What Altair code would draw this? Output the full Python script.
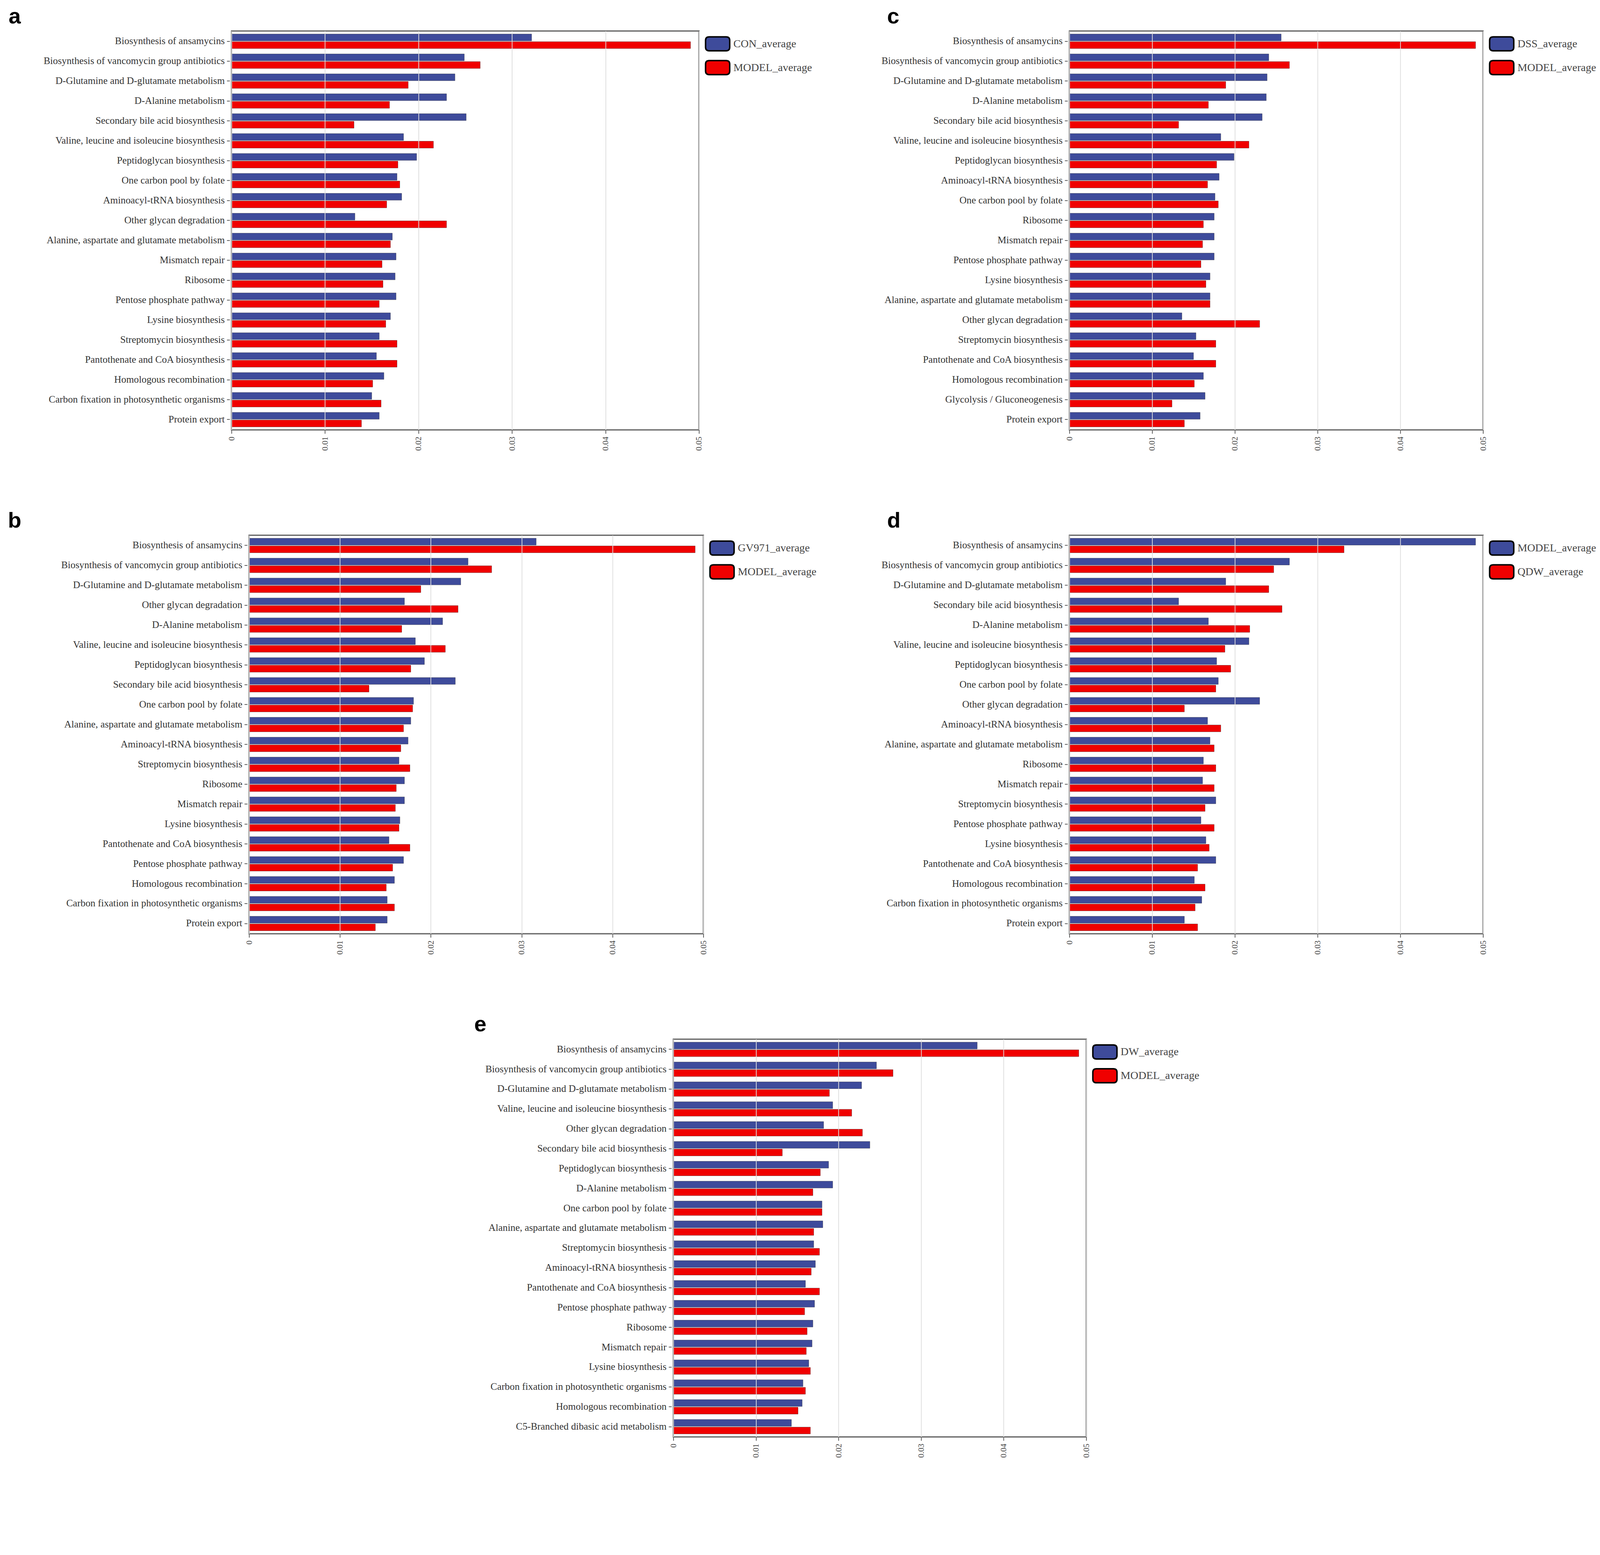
import altair as alt
import pandas as pd

BLUE = "#3E4B9B"
RED = "#F00000"

# ---------------- panel a ----------------
a_series = ["CON_average", "MODEL_average"]
a_cats = ["Biosynthesis of ansamycins", "Biosynthesis of vancomycin group antibiotics",
          "D-Glutamine and D-glutamate metabolism", "D-Alanine metabolism",
          "Secondary bile acid biosynthesis", "Valine, leucine and isoleucine biosynthesis",
          "Peptidoglycan biosynthesis", "One carbon pool by folate", "Aminoacyl-tRNA biosynthesis",
          "Other glycan degradation", "Alanine, aspartate and glutamate metabolism", "Mismatch repair",
          "Ribosome", "Pentose phosphate pathway", "Lysine biosynthesis", "Streptomycin biosynthesis",
          "Pantothenate and CoA biosynthesis", "Homologous recombination",
          "Carbon fixation in photosynthetic organisms", "Protein export"]
a_blue = [0.0321, 0.0249, 0.0239, 0.0230, 0.0251, 0.0184, 0.0198, 0.0177, 0.0182, 0.0132,
          0.0172, 0.0176, 0.0175, 0.0176, 0.0170, 0.0158, 0.0155, 0.0163, 0.0150, 0.0158]
a_red = [0.0491, 0.0266, 0.0189, 0.0169, 0.0131, 0.0216, 0.0178, 0.0180, 0.0166, 0.0230,
         0.0170, 0.0161, 0.0162, 0.0158, 0.0165, 0.0177, 0.0177, 0.0151, 0.0160, 0.0139]

# ---------------- panel c ----------------
c_series = ["DSS_average", "MODEL_average"]
c_cats = ["Biosynthesis of ansamycins", "Biosynthesis of vancomycin group antibiotics",
          "D-Glutamine and D-glutamate metabolism", "D-Alanine metabolism",
          "Secondary bile acid biosynthesis", "Valine, leucine and isoleucine biosynthesis",
          "Peptidoglycan biosynthesis", "Aminoacyl-tRNA biosynthesis", "One carbon pool by folate",
          "Ribosome", "Mismatch repair", "Pentose phosphate pathway", "Lysine biosynthesis",
          "Alanine, aspartate and glutamate metabolism", "Other glycan degradation",
          "Streptomycin biosynthesis", "Pantothenate and CoA biosynthesis", "Homologous recombination",
          "Glycolysis / Gluconeogenesis", "Protein export"]
c_blue = [0.0256, 0.0241, 0.0239, 0.0238, 0.0233, 0.0183, 0.0199, 0.0181, 0.0176, 0.0175,
          0.0175, 0.0175, 0.0170, 0.0170, 0.0136, 0.0153, 0.0150, 0.0162, 0.0164, 0.0158]
c_red = [0.0491, 0.0266, 0.0189, 0.0168, 0.0132, 0.0217, 0.0178, 0.0167, 0.0180, 0.0162,
         0.0161, 0.0159, 0.0165, 0.0170, 0.0230, 0.0177, 0.0177, 0.0151, 0.0124, 0.0139]

# ---------------- panel b ----------------
b_series = ["GV971_average", "MODEL_average"]
b_cats = ["Biosynthesis of ansamycins", "Biosynthesis of vancomycin group antibiotics",
          "D-Glutamine and D-glutamate metabolism", "Other glycan degradation", "D-Alanine metabolism",
          "Valine, leucine and isoleucine biosynthesis", "Peptidoglycan biosynthesis",
          "Secondary bile acid biosynthesis", "One carbon pool by folate",
          "Alanine, aspartate and glutamate metabolism", "Aminoacyl-tRNA biosynthesis",
          "Streptomycin biosynthesis", "Ribosome", "Mismatch repair", "Lysine biosynthesis",
          "Pantothenate and CoA biosynthesis", "Pentose phosphate pathway", "Homologous recombination",
          "Carbon fixation in photosynthetic organisms", "Protein export"]
b_blue = [0.0316, 0.0241, 0.0233, 0.0171, 0.0213, 0.0183, 0.0193, 0.0227, 0.0181, 0.0178,
          0.0175, 0.0165, 0.0171, 0.0171, 0.0166, 0.0154, 0.0170, 0.0160, 0.0152, 0.0152]
b_red = [0.0491, 0.0267, 0.0189, 0.0230, 0.0168, 0.0216, 0.0178, 0.0132, 0.0180, 0.0170,
         0.0167, 0.0177, 0.0162, 0.0161, 0.0165, 0.0177, 0.0158, 0.0151, 0.0160, 0.0139]

# ---------------- panel d ----------------
d_series = ["MODEL_average", "QDW_average"]
d_cats = ["Biosynthesis of ansamycins", "Biosynthesis of vancomycin group antibiotics",
          "D-Glutamine and D-glutamate metabolism", "Secondary bile acid biosynthesis",
          "D-Alanine metabolism", "Valine, leucine and isoleucine biosynthesis",
          "Peptidoglycan biosynthesis", "One carbon pool by folate", "Other glycan degradation",
          "Aminoacyl-tRNA biosynthesis", "Alanine, aspartate and glutamate metabolism", "Ribosome",
          "Mismatch repair", "Streptomycin biosynthesis", "Pentose phosphate pathway",
          "Lysine biosynthesis", "Pantothenate and CoA biosynthesis", "Homologous recombination",
          "Carbon fixation in photosynthetic organisms", "Protein export"]
d_blue = [0.0491, 0.0266, 0.0189, 0.0132, 0.0168, 0.0217, 0.0178, 0.0180, 0.0230, 0.0167,
          0.0170, 0.0162, 0.0161, 0.0177, 0.0159, 0.0165, 0.0177, 0.0151, 0.0160, 0.0139]
d_red = [0.0332, 0.0247, 0.0241, 0.0257, 0.0218, 0.0188, 0.0195, 0.0177, 0.0139, 0.0183,
         0.0175, 0.0177, 0.0175, 0.0164, 0.0175, 0.0169, 0.0155, 0.0164, 0.0152, 0.0155]

# ---------------- panel e ----------------
e_series = ["DW_average", "MODEL_average"]
e_cats = ["Biosynthesis of ansamycins", "Biosynthesis of vancomycin group antibiotics",
          "D-Glutamine and D-glutamate metabolism", "Valine, leucine and isoleucine biosynthesis",
          "Other glycan degradation", "Secondary bile acid biosynthesis", "Peptidoglycan biosynthesis",
          "D-Alanine metabolism", "One carbon pool by folate",
          "Alanine, aspartate and glutamate metabolism", "Streptomycin biosynthesis",
          "Aminoacyl-tRNA biosynthesis", "Pantothenate and CoA biosynthesis",
          "Pentose phosphate pathway", "Ribosome", "Mismatch repair", "Lysine biosynthesis",
          "Carbon fixation in photosynthetic organisms", "Homologous recombination",
          "C5-Branched dibasic acid metabolism"]
e_blue = [0.0368, 0.0246, 0.0228, 0.0193, 0.0182, 0.0238, 0.0188, 0.0193, 0.0180, 0.0181,
          0.0170, 0.0172, 0.0160, 0.0171, 0.0169, 0.0168, 0.0164, 0.0157, 0.0156, 0.0143]
e_red = [0.0491, 0.0266, 0.0189, 0.0216, 0.0229, 0.0132, 0.0178, 0.0169, 0.0180, 0.0170,
         0.0177, 0.0167, 0.0177, 0.0159, 0.0162, 0.0161, 0.0166, 0.0160, 0.0151, 0.0166]

x_ticks = [0, 0.01, 0.02, 0.03, 0.04, 0.05]

# rounded-rectangle legend swatch
RR = ("M -0.7,-0.58 L 0.7,-0.58 Q 1,-0.58 1,-0.28 L 1,0.28 Q 1,0.58 0.7,0.58 "
      "L -0.7,0.58 Q -1,0.58 -1,0.28 L -1,-0.28 Q -1,-0.58 -0.7,-0.58 Z")

SERIF = "Liberation Serif"


def panel(label, cats, blue, red, series, width, height, yext, title_dx):
    df = pd.DataFrame({
        "pathway": cats + cats,
        "series": [series[0]] * len(cats) + [series[1]] * len(cats),
        "value": blue + red,
    })
    return alt.Chart(df).mark_bar(
        stroke="#222222", strokeWidth=1, strokeOpacity=0.55
    ).encode(
        y=alt.Y("pathway:N", sort=cats, title=None,
                scale=alt.Scale(paddingInner=0.27, paddingOuter=0.15),
                axis=alt.Axis(minExtent=yext, maxExtent=yext, labelLimit=1200,
                              labelFont=SERIF, labelFontSize=27, labelColor="#333333",
                              tickSize=8, tickColor="#555555", tickWidth=2,
                              labelPadding=6, domain=False, grid=False, offset=5)),
        x=alt.X("value:Q", title=None,
                scale=alt.Scale(domain=[0, 0.05], nice=False, zero=True),
                axis=alt.Axis(values=x_ticks, format=".2~f", labelAngle=270,
                              labelFont=SERIF, labelFontSize=22, labelColor="#444444",
                              tickSize=10, tickColor="#555555", tickWidth=2,
                              labelPadding=8, domain=False, grid=True,
                              gridColor="#dddddd", gridWidth=2, zindex=1,
                              minExtent=55, maxExtent=55)),
        yOffset=alt.YOffset("series:N", sort=series,
                            scale=alt.Scale(paddingInner=0.1)),
        color=alt.Color("series:N", sort=series,
                        scale=alt.Scale(domain=series, range=[BLUE, RED]),
                        legend=alt.Legend(title=None, orient="right", offset=16, padding=0,
                                          symbolType=RR, symbolSize=66 * 66,
                                          symbolStrokeColor="black", symbolStrokeWidth=4,
                                          symbolOpacity=1, labelFont=SERIF,
                                          labelFontSize=30, labelColor="#444444",
                                          labelOffset=8, rowPadding=2, labelLimit=400)),
    ).properties(
        width=width, height=height,
        title=alt.TitleParams(label, anchor="start", frame="group", dx=title_dx,
                              font="Liberation Sans", fontSize=60, fontWeight="bold",
                              color="#000000", offset=8),
    )


def spacer(w):
    return alt.Chart(pd.DataFrame({"v": [0]})).mark_point(opacity=0).encode(
        x=alt.X("v:Q", axis=None), y=alt.Y("v:Q", axis=None)
    ).properties(width=w, height=10, view=alt.ViewBackground(stroke=None))


RES = dict(color="independent", yOffset="independent", y="independent", x="independent")

pa = panel("a", a_cats, a_blue, a_red, a_series, 1277, 1090, 610, -609)
pc = panel("c", c_cats, c_blue, c_red, c_series, 1130, 1090, 694, -498)
pb = panel("b", b_cats, b_blue, b_red, b_series, 1241, 1089, 658, -659)
pd_ = panel("d", d_cats, d_blue, d_red, d_series, 1130, 1089, 682, -498)
pe = panel("e", e_cats, e_blue, e_red, e_series, 1128, 1087, 544, -544)

row1 = alt.hconcat(spacer(1), pa, pc, spacing=0).resolve_scale(**RES).resolve_legend(color="independent")
row2 = alt.hconcat(spacer(1), pb, pd_, spacing=0).resolve_scale(**RES).resolve_legend(color="independent")
row3 = alt.hconcat(spacer(1277), pe, spacing=0).resolve_scale(**RES).resolve_legend(color="independent")

chart = alt.vconcat(row1, row2, row3, spacing=158).resolve_scale(**RES).resolve_legend(
    color="independent"
).properties(
    padding={"left": 0, "top": -124, "right": 0, "bottom": 0}, background="white"
).configure_view(stroke="#666666", strokeWidth=3.5)

chart.save("out.html", embed_options={"renderer": "svg", "actions": False})
